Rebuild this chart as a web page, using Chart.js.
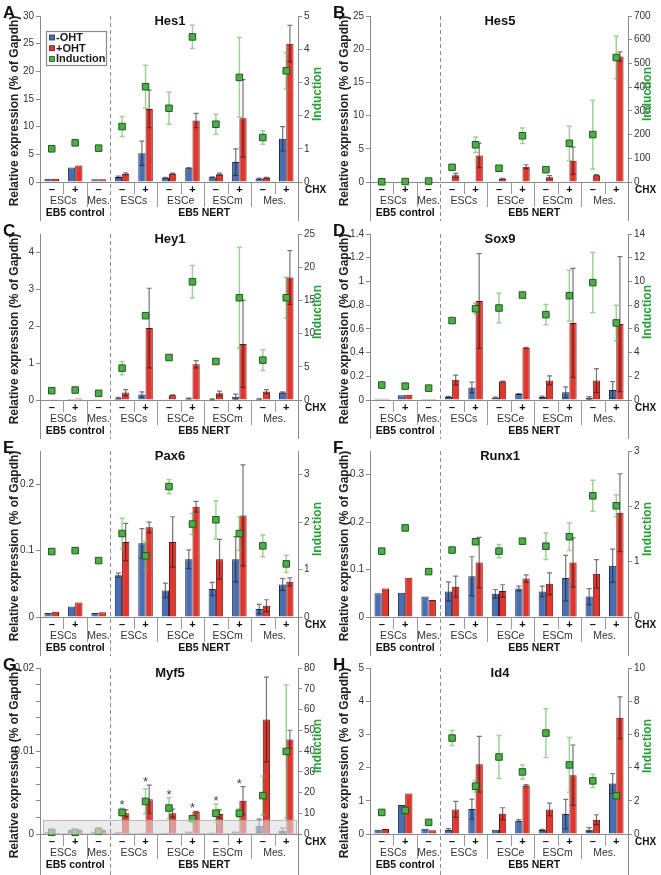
<!DOCTYPE html>
<html>
<head>
<meta charset="utf-8">
<script src="https://cdn.jsdelivr.net/npm/chart.js@4.4.1/dist/chart.umd.min.js"></script>
<style>
  html, body { margin: 0; padding: 0; background: #fff; }
  #fig { position: relative; width: 661px; height: 875px; overflow: hidden; }
  #fig canvas { position: absolute; }
</style>
</head>
<body>
<div id="fig"></div>
<script>
// --- categories (x axis) ---
const chx = ['–', '+', '–', '–', '+', '–', '+', '–', '+', '–', '+'];
const groupLabels = ['ESCs', 'Mes.', 'ESCs', 'ESCe', 'ESCm', 'Mes.'];
const groupStart  = [0, 2, 3, 5, 7, 9];
const groupEnd    = [1, 2, 4, 6, 8, 10];
const sectionLabels = ['EB5 control', 'EB5 NERT'];
const legendLabels = ['-OHT', '+OHT', 'Induction'];

// --- Hes1 ---
const hes1Blue    = [0.6, 2.6, 0.5, 0.9, 5.2, 0.75, 2.5, 0.85, 3.6, 0.6, 7.8];
const hes1BlueErr = [0, 0, 0, 0.15, 2.2, 0.1, 0.1, 0.1, 2.4, 0.1, 2.2];
const hes1Red     = [0.6, 3.0, 0.5, 1.5, 13.2, 1.5, 11.1, 1.4, 11.5, 0.75, 25];
const hes1RedErr  = [0, 0, 0, 0.15, 3.4, 0.1, 1.3, 0.2, 7, 0.1, 3.3];
const hes1Ind     = [1.0, 1.18, 1.02, 1.67, 2.87, 2.22, 4.37, 1.74, 3.15, 1.34, 3.35];
const hes1IndErr  = [0, 0, 0, 0.3, 0.65, 0.48, 0.35, 0.3, 1.2, 0.2, 0.55];

// --- Hes5 ---
const hes5Blue    = [0.02, 0.02, 0.02, 0.03, 0.03, 0.02, 0.03, 0.02, 0.03, 0.02, 0.05];
const hes5BlueErr = [0, 0, 0, 0, 0, 0, 0, 0, 0, 0, 0];
const hes5Red     = [0.02, 0.02, 0.02, 1.0, 4.0, 0.5, 2.3, 0.7, 3.2, 1.0, 18.9];
const hes5RedErr  = [0, 0, 0, 0.3, 1.85, 0.05, 0.3, 0.25, 2.05, 0.1, 0.7];
const hes5Ind     = [1, 2, 4, 62, 157, 58, 195, 52, 163, 200, 525];
const hes5IndErr  = [0, 0, 0, 0, 33, 0, 33, 0, 72, 145, 90];

// --- Hey1 ---
const hey1Blue    = [0.01, 0.03, 0.02, 0.05, 0.15, 0.01, 0.04, 0.02, 0.09, 0.03, 0.2];
const hey1BlueErr = [0, 0, 0, 0.02, 0.07, 0, 0.01, 0.01, 0.07, 0.01, 0.02];
const hey1Red     = [0.01, 0.04, 0.02, 0.2, 1.95, 0.13, 0.97, 0.18, 1.52, 0.23, 3.32];
const hey1RedErr  = [0, 0, 0, 0.08, 1.08, 0.01, 0.1, 0.06, 1.18, 0.05, 0.73];
const hey1Ind     = [1.4, 1.5, 1.0, 4.8, 12.7, 6.4, 17.8, 5.8, 15.4, 6.0, 15.4];
const hey1IndErr  = [0, 0, 0, 1.0, 0.3, 0, 2.45, 0, 7.6, 1.55, 3.1];

// --- Sox9 ---
const sox9Blue    = [0.01, 0.04, 0.008, 0.025, 0.105, 0.02, 0.05, 0.025, 0.065, 0.018, 0.085];
const sox9BlueErr = [0, 0, 0, 0.005, 0.045, 0.004, 0.003, 0.008, 0.045, 0.01, 0.07];
const sox9Red     = [0.01, 0.045, 0.008, 0.17, 0.835, 0.155, 0.44, 0.165, 0.65, 0.165, 0.64];
const sox9RedErr  = [0, 0, 0, 0.04, 0.4, 0.004, 0.003, 0.038, 0.46, 0.1, 0.57];
const sox9Ind     = [1.26, 1.17, 1.0, 6.7, 7.7, 7.76, 8.85, 7.2, 8.8, 9.9, 6.5];
const sox9IndErr  = [0, 0, 0, 0, 0.45, 1.25, 0, 0.85, 2.15, 2.55, 1.5];

// --- Pax6 ---
const pax6Blue    = [0.006, 0.016, 0.006, 0.063, 0.111, 0.04, 0.087, 0.042, 0.087, 0.012, 0.049];
const pax6BlueErr = [0, 0, 0, 0.003, 0.022, 0.011, 0.014, 0.01, 0.034, 0.007, 0.009];
const pax6Red     = [0.008, 0.022, 0.007, 0.113, 0.135, 0.113, 0.166, 0.087, 0.153, 0.017, 0.053];
const pax6RedErr  = [0, 0, 0, 0.028, 0.008, 0.038, 0.008, 0.03, 0.076, 0.009, 0.006];
const pax6Ind     = [1.38, 1.4, 1.19, 1.76, 1.29, 2.75, 1.96, 2.05, 1.76, 1.5, 1.12];
const pax6IndErr  = [0, 0, 0, 0.32, 0.3, 0.15, 0.22, 0.4, 0.35, 0.23, 0.18];

// --- Runx1 ---
const runx1Blue    = [0.05, 0.051, 0.043, 0.054, 0.086, 0.049, 0.06, 0.054, 0.082, 0.043, 0.108];
const runx1BlueErr = [0, 0, 0, 0.02, 0.041, 0.009, 0.005, 0.011, 0.048, 0.017, 0.035];
const runx1Red     = [0.06, 0.083, 0.036, 0.064, 0.115, 0.055, 0.081, 0.07, 0.115, 0.091, 0.22];
const runx1RedErr  = [0, 0, 0, 0.022, 0.053, 0.013, 0.008, 0.023, 0.052, 0.03, 0.082];
const runx1Ind     = [1.19, 1.61, 0.82, 1.21, 1.36, 1.19, 1.37, 1.28, 1.45, 2.19, 2.01];
const runx1IndErr  = [0, 0, 0, 0, 0, 0.12, 0, 0.24, 0.25, 0.28, 0.2];

// --- Myf5 ---
const myf5Blue    = [0.0002, 0.0005, 0.0003, 0.0002, 0.00015, 0.00015, 0.0003, 0.00018, 0.0003, 0.001, 0.0004];
const myf5BlueErr = [0, 0, 0, 0, 0, 0, 0, 0, 0, 0.0008, 0.0003];
const myf5Red     = [0.00015, 0.0005, 0.0005, 0.0025, 0.0042, 0.0025, 0.0027, 0.0024, 0.004, 0.0138, 0.0114];
const myf5RedErr  = [0, 0, 0, 0.0004, 0.0017, 0.0005, 0.00003, 0.0005, 0.0017, 0.0051, 0.0011];
const myf5Ind     = [0.8, 0.8, 1.3, 10.4, 15.7, 12.5, 7.4, 10, 10, 18.5, 39.8];
const myf5IndErr  = [0, 0, 0, 2, 6, 5, 0.8, 4.5, 2, 9.5, 32];
const myf5Stars   = [3, 4, 5, 6, 7, 8];

// --- Id4 ---
const id4Blue    = [0.13, 0.87, 0.16, 0.13, 0.75, 0.13, 0.4, 0.12, 0.6, 0.13, 1.52];
const id4BlueErr = [0, 0, 0, 0.03, 0.3, 0, 0.03, 0.02, 0.44, 0.06, 0.3];
const id4Red     = [0.15, 1.22, 0.11, 0.74, 2.1, 0.61, 1.46, 0.74, 1.77, 0.43, 3.5];
const id4RedErr  = [0, 0, 0, 0.24, 0.84, 0.18, 0.03, 0.19, 0.91, 0.15, 0.63];
const id4Ind     = [1.3, 1.42, 0.7, 5.78, 2.88, 4.64, 3.74, 6.08, 4.16, 3.2, 2.3];
const id4IndErr  = [0, 0, 0, 0.45, 0.35, 1.3, 0.42, 1.47, 1.65, 0.4, 0];

const panels = [
  { letter: 'A', gene: 'Hes1', blue: hes1Blue, blueErr: hes1BlueErr, red: hes1Red, redErr: hes1RedErr, ind: hes1Ind, indErr: hes1IndErr, yMax: 30, yStep: 5, y1Max: 5, y1Step: 1, legend: true },
  { letter: 'B', gene: 'Hes5', blue: hes5Blue, blueErr: hes5BlueErr, red: hes5Red, redErr: hes5RedErr, ind: hes5Ind, indErr: hes5IndErr, yMax: 25, yStep: 5, y1Max: 700, y1Step: 100 },
  { letter: 'C', gene: 'Hey1', blue: hey1Blue, blueErr: hey1BlueErr, red: hey1Red, redErr: hey1RedErr, ind: hey1Ind, indErr: hey1IndErr, yMax: 4.5, yStep: 1, y1Max: 25, y1Step: 5 },
  { letter: 'D', gene: 'Sox9', blue: sox9Blue, blueErr: sox9BlueErr, red: sox9Red, redErr: sox9RedErr, ind: sox9Ind, indErr: sox9IndErr, yMax: 1.4, yStep: 0.2, y1Max: 14, y1Step: 2 },
  { letter: 'E', gene: 'Pax6', blue: pax6Blue, blueErr: pax6BlueErr, red: pax6Red, redErr: pax6RedErr, ind: pax6Ind, indErr: pax6IndErr, yMax: 0.25, yStep: 0.1, y1Max: 3.5, y1Step: 1 },
  { letter: 'F', gene: 'Runx1', blue: runx1Blue, blueErr: runx1BlueErr, red: runx1Red, redErr: runx1RedErr, ind: runx1Ind, indErr: runx1IndErr, yMax: 0.35, yStep: 0.1, y1Max: 3, y1Step: 1 },
  { letter: 'G', gene: 'Myf5', blue: myf5Blue, blueErr: myf5BlueErr, red: myf5Red, redErr: myf5RedErr, ind: myf5Ind, indErr: myf5IndErr, yMax: 0.02, yStep: 0.002, yLabelStep: 0.01, y1Max: 80, y1Step: 10, shade: 0.0017, stars: myf5Stars },
  { letter: 'H', gene: 'Id4', blue: id4Blue, blueErr: id4BlueErr, red: id4Red, redErr: id4RedErr, ind: id4Ind, indErr: id4IndErr, yMax: 5, yStep: 1, y1Max: 10, y1Step: 2 }
];

const FONT = 'Arial, "Liberation Sans", Helvetica, sans-serif';
const AXIS = '#8a8a8a';
const BLUE = '#4a6eb2', BLUE_EDGE = '#1f2e58';
const RED = '#e0362e', RED_EDGE = '#701510';
const GREEN = '#4fae4a', GREEN_EDGE = '#1d5a1d';
const GREEN_TXT = '#27a03a';

const rowTops = [0, 218, 435, 652];
const PLOT_TOP = 16, PLOT_BOTTOM = 182, PLOT_RIGHT = 298, PLOT_LEFT = 40;

const isMultiple = (v, st) => Math.abs(v / st - Math.round(v / st)) < 1e-6;
const fmtTick = v => String(parseFloat(v.toFixed(6)));

// drop the extra tick Chart.js adds at a non-round max
function keepSteps(scale) {
  const st = scale.options.ticks.stepSize;
  scale.ticks = scale.ticks.filter(t => isMultiple(t.value, st));
}

function drawErrors(chart, i, color, lw) {
  const ds = chart.data.datasets[i];
  const meta = chart.getDatasetMeta(i);
  const sc = chart.scales[ds.yAxisID];
  const ctx = chart.ctx;
  ctx.save();
  ctx.strokeStyle = color;
  ctx.lineWidth = lw;
  ctx.beginPath();
  ds.data.forEach((v, j) => {
    const e = ds.err[j];
    if (!e) return;
    const x = meta.data[j].x;
    const yHi = sc.getPixelForValue(v + e);
    const yLo = sc.getPixelForValue(Math.max(0, v - e));
    ctx.moveTo(x, yLo); ctx.lineTo(x, yHi);
    ctx.moveTo(x - 2.5, yHi); ctx.lineTo(x + 2.5, yHi);
    ctx.moveTo(x - 2.5, yLo); ctx.lineTo(x + 2.5, yLo);
  });
  ctx.stroke();
  ctx.restore();
}

const errorBars = {
  id: 'errorBars',
  beforeDatasetDraw(chart, args) {
    if (chart.data.datasets[args.index].type === 'line') drawErrors(chart, args.index, 'rgba(95,180,85,0.6)', 1.5);
  },
  afterDatasetDraw(chart, args) {
    if (chart.data.datasets[args.index].type !== 'line') drawErrors(chart, args.index, 'rgba(25,25,25,0.6)', 1.2);
  }
};

function line(ctx, x1, y1, x2, y2) {
  ctx.beginPath(); ctx.moveTo(x1, y1); ctx.lineTo(x2, y2); ctx.stroke();
}

function makeDecor(p, H) {
  return {
    id: 'decor',
    afterDatasetsDraw(chart) {
      if (!p.shade) return;
      const ctx = chart.ctx, a = chart.chartArea;
      const y = chart.scales.y, y1 = chart.scales.y1, x = chart.scales.x;
      ctx.save();
      // grey box over the low range
      const top = y.getPixelForValue(p.shade);
      ctx.fillStyle = 'rgba(222,222,222,0.6)';
      ctx.strokeStyle = 'rgba(160,160,160,0.7)';
      ctx.lineWidth = 1;
      ctx.fillRect(a.left + 3, top, a.right - a.left - 4, a.bottom - top);
      ctx.strokeRect(a.left + 3.5, top + 0.5, a.right - a.left - 5, a.bottom - top - 0.5);
      // asterisks
      ctx.fillStyle = '#444';
      ctx.font = `13px ${FONT}`;
      ctx.textAlign = 'center';
      ctx.textBaseline = 'alphabetic';
      p.stars.forEach(j => {
        const yr = y.getPixelForValue(p.red[j] + p.redErr[j]);
        const yg = y1.getPixelForValue(p.ind[j] + p.indErr[j]);
        ctx.fillText('*', x.getPixelForValue(j), Math.min(yr, yg) + 1);
      });
      ctx.restore();
    },
    afterDraw(chart) {
      const ctx = chart.ctx, a = chart.chartArea, x = chart.scales.x;
      const cx = j => x.getPixelForValue(j);
      const mid = j => (cx(j) + cx(j + 1)) / 2;
      const b = a.bottom;
      ctx.save();

      // axis lines continue down through the label rows
      ctx.strokeStyle = AXIS; ctx.lineWidth = 1;
      line(ctx, a.left + 0.5, b, a.left + 0.5, H);
      line(ctx, a.right + 0.5, b, a.right + 0.5, H);

      // separators under the axis
      ctx.strokeStyle = '#9a9a9a';
      groupStart.forEach((s, g) => {
        if (groupEnd[g] > s) line(ctx, Math.round(mid(s)) + 0.5, b, Math.round(mid(s)) + 0.5, b + 12);
        const e = groupEnd[g];
        if (g < groupStart.length - 1 && e !== 2) line(ctx, Math.round(mid(e)) + 0.5, b, Math.round(mid(e)) + 0.5, b + 25);
      });

      // dashed section divider
      const dx = Math.round(mid(2)) + 0.5;
      ctx.strokeStyle = '#8c8c8c';
      ctx.setLineDash([4, 3]);
      line(ctx, dx, a.top, dx, H);
      ctx.setLineDash([]);

      // row 1: CHX -/+
      ctx.fillStyle = '#111';
      ctx.textBaseline = 'middle';
      ctx.textAlign = 'center';
      ctx.font = `bold 11px ${FONT}`;
      chx.forEach((t, j) => ctx.fillText(t, cx(j), b + 8));
      ctx.textAlign = 'left';
      ctx.font = `bold 10px ${FONT}`;
      ctx.fillText('CHX', a.right + 7, b + 8);

      // row 2: cell types
      ctx.textAlign = 'center';
      ctx.fillStyle = '#333';
      ctx.font = `10.5px ${FONT}`;
      groupLabels.forEach((t, g) => ctx.fillText(t, (cx(groupStart[g]) + cx(groupEnd[g])) / 2, b + 19.5));

      // row 3: sections
      ctx.fillStyle = '#111';
      ctx.font = `bold 10.5px ${FONT}`;
      ctx.fillText(sectionLabels[0], (a.left + dx) / 2, b + 31);
      ctx.fillText(sectionLabels[1], (dx + a.right) / 2, b + 31);

      // gene title
      ctx.font = `bold 13px ${FONT}`;
      ctx.fillText(p.gene, a.left + 130, a.top + 5);

      // panel letter
      ctx.textAlign = 'left';
      ctx.textBaseline = 'alphabetic';
      ctx.font = `bold 17px ${FONT}`;
      ctx.fillText(p.letter, 3, 17.5);

      // axis titles
      ctx.textAlign = 'center';
      ctx.textBaseline = 'middle';
      ctx.save();
      ctx.translate(15, 111);
      ctx.rotate(-Math.PI / 2);
      ctx.font = `bold 12px ${FONT}`;
      ctx.fillStyle = '#222';
      ctx.fillText('Relative expression (% of Gapdh)', 0, 0);
      ctx.restore();
      ctx.save();
      ctx.translate(a.right + 20, 94);
      ctx.rotate(-Math.PI / 2);
      ctx.font = `bold 12px ${FONT}`;
      ctx.fillStyle = GREEN_TXT;
      ctx.fillText('Induction', 0, 0);
      ctx.restore();

      // legend box (panel A)
      if (p.legend) {
        ctx.strokeStyle = '#8a8a8a';
        ctx.lineWidth = 1.2;
        ctx.strokeRect(46.5, 31.5, 60, 34);
        const cols = [[BLUE, BLUE_EDGE], [RED, RED_EDGE], [GREEN, GREEN_EDGE]];
        ctx.textAlign = 'left';
        ctx.font = `bold 11px ${FONT}`;
        legendLabels.forEach((t, k) => {
          const yy = 37.5 + k * 10.7;
          ctx.fillStyle = cols[k][0];
          ctx.fillRect(49.5, yy - 2.5, 5, 5);
          ctx.strokeStyle = cols[k][1];
          ctx.lineWidth = 0.8;
          ctx.strokeRect(49.5, yy - 2.5, 5, 5);
          ctx.fillStyle = '#1a1a1a';
          ctx.fillText(t, 56, yy + 0.5);
        });
      }
      ctx.restore();
    }
  };
}

const fig = document.getElementById('fig');
panels.forEach((p, i) => {
  const col = i % 2, row = Math.floor(i / 2);
  const W = col === 0 ? 330 : 331;
  const H = row < 3 ? 221 : 223;
  const canvas = document.createElement('canvas');
  canvas.width = W; canvas.height = H;
  canvas.style.width = W + 'px'; canvas.style.height = H + 'px';
  canvas.style.left = (col * 330) + 'px';
  canvas.style.top = rowTops[row] + 'px';
  fig.appendChild(canvas);

  const tickFont = { family: FONT, size: 10 };
  const labelStep = p.yLabelStep || p.yStep;
  new Chart(canvas, {
    type: 'bar',
    data: {
      labels: chx,
      datasets: [
        { label: legendLabels[0], data: p.blue, err: p.blueErr, backgroundColor: BLUE, borderColor: BLUE_EDGE, borderWidth: 1,
          yAxisID: 'y', order: 2, categoryPercentage: 0.62, barPercentage: 1 },
        { label: legendLabels[1], data: p.red, err: p.redErr, backgroundColor: RED, borderColor: RED_EDGE, borderWidth: 1,
          yAxisID: 'y', order: 2, categoryPercentage: 0.62, barPercentage: 1 },
        { type: 'line', label: legendLabels[2], data: p.ind, err: p.indErr, yAxisID: 'y1', showLine: false,
          pointStyle: 'rect', pointRadius: 4.6, pointBackgroundColor: GREEN, pointBorderColor: GREEN_EDGE,
          pointBorderWidth: 1, order: 1, clip: false }
      ]
    },
    options: {
      responsive: false,
      animation: false,
      events: [],
      layout: { padding: { top: PLOT_TOP, left: 0, right: 0, bottom: 0 } },
      plugins: { legend: { display: false }, tooltip: { enabled: false }, title: { display: false } },
      scales: {
        x: {
          grid: { display: false },
          ticks: { display: false },
          border: { color: AXIS },
          afterFit: s => { s.height = H - PLOT_BOTTOM; }
        },
        y: {
          position: 'left', min: 0, max: p.yMax,
          ticks: { stepSize: p.yStep, font: tickFont, color: '#333', padding: 2, autoSkip: false,
                   callback: v => (isMultiple(v, labelStep) ? fmtTick(v) : '') },
          grid: { drawOnChartArea: false, tickLength: 4, color: AXIS },
          border: { color: AXIS },
          afterBuildTicks: keepSteps,
          afterFit: s => { s.width = PLOT_LEFT; }
        },
        y1: {
          position: 'right', min: 0, max: p.y1Max,
          ticks: { stepSize: p.y1Step, font: tickFont, color: '#333', padding: 2, callback: v => fmtTick(v) },
          grid: { drawOnChartArea: false, tickLength: 4, color: AXIS },
          border: { color: AXIS },
          afterBuildTicks: keepSteps,
          afterFit: s => { s.width = W - PLOT_RIGHT; }
        }
      }
    },
    plugins: [errorBars, makeDecor(p, H)]
  });
});
</script>
</body>
</html>
